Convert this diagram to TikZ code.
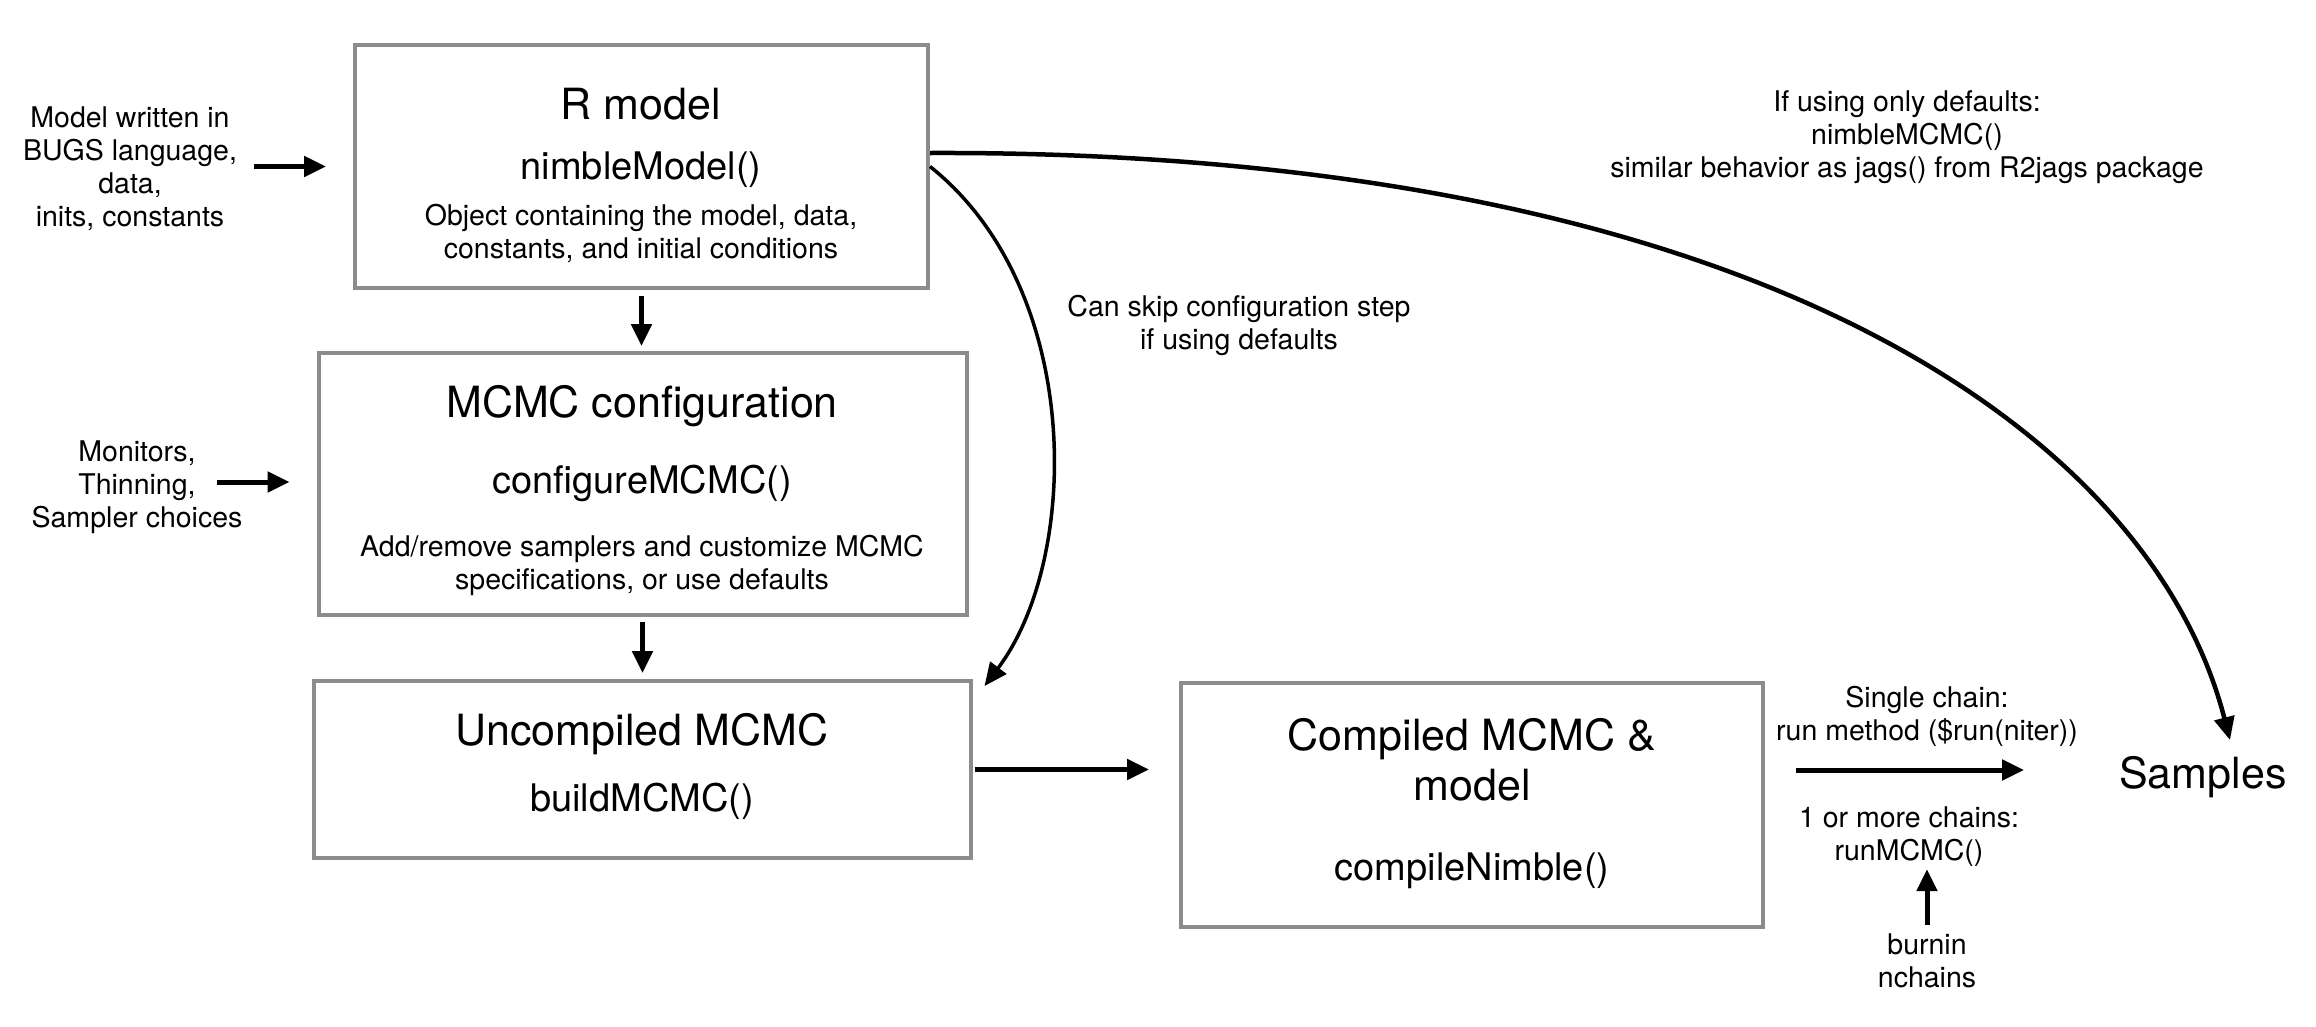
\documentclass[tikz,border=0pt]{standalone}
\usepackage{fontspec}
\setmainfont{TeX Gyre Heros}
\usetikzlibrary{arrows.meta}
\definecolor{boxgray}{RGB}{138,140,143}
\begin{document}
\begin{tikzpicture}[x=1pt,y=-1pt,
  box/.style={draw=boxgray, line width=4pt, fill=white, inner sep=0pt},
  head/.style={font=\fontsize{43}{50}\selectfont, align=center, inner sep=0pt},
  func/.style={font=\fontsize{38}{44}\selectfont, inner sep=0pt},
  small/.style={font=\fontsize{28.5}{33}\selectfont, align=center, inner sep=0pt},
  arr/.style={line width=5pt, -{Triangle[length=22pt,width=20pt]}},
  carr/.style={line width=3.5pt, -{Triangle[length=23pt,width=20pt]}},
]
\useasboundingbox (0,0) rectangle (2316,1026);
\fill[white] (0,0) rectangle (2316,1026);

% boxes
\node[box, minimum width=573pt, minimum height=243pt] (rbox) at (641.5,166.5) {};
\node[box, minimum width=648pt, minimum height=262pt] (cbox) at (642.5,484) {};
\node[box, minimum width=657pt, minimum height=177pt] (ubox) at (642,769.5) {};
\node[box, minimum width=582pt, minimum height=244pt] (cmp) at (1472,805) {};

% box texts
\node[head] (rhead) at (641,104) {R model};
\node[func] (rfunc) at (641,170) {nimbleModel()};
\node[small] (rdesc) at (641,233) {Object containing the model, data,\\constants, and initial conditions};

\node[head] (chead) at (642,406) {MCMC configuration};
\node[func] (cfunc) at (642,483) {configureMCMC()};
\node[small] (cdesc) at (642,565) {Add/remove samplers and customize MCMC\\specifications, or use defaults};

\node[head] (uhead) at (642,734) {Uncompiled MCMC};
\node[func] (ufunc) at (642,801) {buildMCMC()};

\node[head] (khead) at (1472,760) {Compiled MCMC \&\\model};
\node[func] (kfunc) at (1472,871) {compileNimble()};

\node[head] (samp) at (2203,777) {Samples};

% side labels
\node[small] (lab1) at (130,169) {Model written in\\BUGS language,\\data,\\inits, constants};
\node[small] (lab2) at (137,487) {Monitors,\\Thinning,\\Sampler choices};
\coordinate (a2s) at (217,482);

\node[small] (runlab) at (1927,716) {Single chain:\\run method (\$run(niter))};
\node[small] (mcmclab) at (1909,837) {1 or more chains:\\runMCMC()};
\node[small] (bn) at (1927,961) {burnin\\nchains};
\coordinate (runarr) at (1794,770);

\node[small] (deflab) at (1907,137) {If using only defaults:\\nimbleMCMC()\\similar behavior as jags() from R2jags package};
\node[small] (skiplab) at (1239,325) {Can skip configuration step\\if using defaults};

% straight arrows
\draw[arr, shorten <=17pt, shorten >=27pt] (lab1.east |- rbox.west) -- (rbox.west);
\draw[arr, shorten >=27pt] (a2s) -- (a2s -| cbox.west);
\draw[arr, shorten <=6pt, shorten >=5pt] (rbox.south) -- (rbox.south |- cbox.north);
\draw[arr, shorten <=5pt, shorten >=6pt] (cbox.south) -- (cbox.south |- ubox.north);
\draw[arr, shorten <=2pt, shorten >=30pt] (ubox.east) -- (ubox.east -| cmp.west);
\draw[arr, shorten <=31pt, shorten >=95pt] (cmp.east |- runarr) -- (samp.west |- runarr);
\draw[arr, shorten <=9pt, shorten >=2pt] (bn.north) -- (bn.north |- mcmclab.south);

% curved arrows
\draw[carr] (rbox.east) .. controls (1085,290) and (1080,560) .. ([shift={(12,7)}]ubox.north east);
\draw[carr, line width=4.5pt] ([yshift=13.5pt]rbox.east) .. controls (1750,150) and (2150,430) .. ([shift={(27,-16)}]samp.north);
\end{tikzpicture}
\end{document}
